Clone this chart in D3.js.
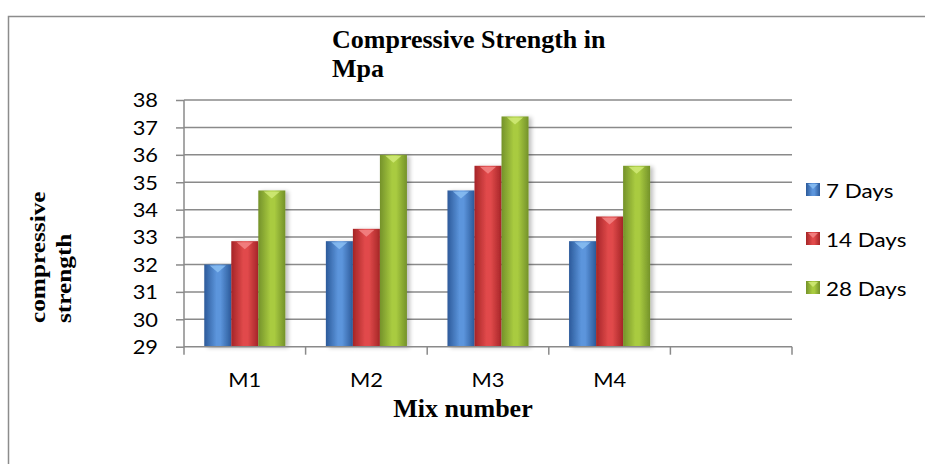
<!DOCTYPE html>
<html><head><meta charset="utf-8">
<script src="https://cdn.jsdelivr.net/npm/d3@7"></script>
<style>body{margin:0;background:#fff}svg{display:block}</style>
</head><body>
<script>
const categories = ["M1","M2","M3","M4",""];
const seriesNames = ["7 Days","14 Days","28 Days"];
const days7  = [32.0, 32.85, 34.7, 32.85];
const days14 = [32.85, 33.3, 35.6, 33.75];
const days28 = [34.7, 36.0, 37.4, 35.6];
const yTicks = [29,30,31,32,33,34,35,36,37,38];
const seriesValues = [days7, days14, days28];
const palette = [
  {edge:"#2c5a9a", mid:"#5c95dc", top:"#8cc0f4"},
  {edge:"#a52527", mid:"#e14a4b", top:"#f58a8a"},
  {edge:"#74922a", mid:"#a9cb40", top:"#d3ec7a"}
];

const W=925,H=464;
const sansF="Lato, 'Open Sans', sans-serif";
const serifF="'Liberation Serif','Times New Roman',serif";
const svg=d3.select("body").append("svg").attr("width",W).attr("height",H);
const defs=svg.append("defs");
palette.forEach((p,i)=>{
  const g=defs.append("linearGradient").attr("id","g"+i).attr("x1","0").attr("x2","1").attr("y1","0").attr("y2","0");
  g.append("stop").attr("offset","0%").attr("stop-color",p.edge);
  g.append("stop").attr("offset","45%").attr("stop-color",p.mid);
  g.append("stop").attr("offset","60%").attr("stop-color",p.mid);
  g.append("stop").attr("offset","100%").attr("stop-color",p.edge);
});
const f=defs.append("filter").attr("id","sh").attr("x","-20%").attr("y","-5%").attr("width","150%").attr("height","115%");
f.append("feGaussianBlur").attr("in","SourceAlpha").attr("stdDeviation",2).attr("result","b");
f.append("feOffset").attr("in","b").attr("dx",3).attr("dy",1).attr("result","o");
f.append("feComponentTransfer").attr("in","o").attr("result","o2").append("feFuncA").attr("type","linear").attr("slope",0.25);
const m=f.append("feMerge"); m.append("feMergeNode").attr("in","o2"); m.append("feMergeNode").attr("in","SourceGraphic");

// border
svg.append("rect").attr("x",8.5).attr("y",16.5).attr("width",W).attr("height",H).attr("fill","none").attr("stroke","#8c8c8c").attr("stroke-width",1.5);

const x0=184,x1=792,yTop=100,yBot=346.7;
const x=d3.scaleBand().domain(categories).range([x0,x1]).paddingInner(0).paddingOuter(0);
const y=d3.scaleLinear().domain([29,38]).range([yBot,yTop]);
const w=x.bandwidth()/4.5;
const xs=d3.scaleBand().domain(seriesNames).range([0.75*w,3.75*w]).padding(0);

// y axis ticks + labels
const yAxis=d3.axisLeft(y).tickValues(yTicks).tickSize(8).tickFormat(d3.format("d"));
const ga=svg.append("g").attr("transform",`translate(${x0},0)`).call(yAxis);
ga.select(".domain").remove();
ga.selectAll(".tick line").attr("stroke","#8a8a8a").attr("stroke-width",1.5);
ga.selectAll(".tick text").attr("x",0).attr("dy","0.36em").attr("text-anchor","end")
  .attr("transform","translate(-26,0) scale(1.15,1)")
  .style("font-family",sansF).style("font-size","19px").attr("fill","#000");
svg.append("g").selectAll("line").data(yTicks.filter(d=>d>29)).join("line")
  .attr("x1",x0).attr("x2",x1).attr("y1",d=>y(d)).attr("y2",d=>y(d)).attr("stroke","#8a8a8a").attr("stroke-width",1.5);

// bars
const data=[];
categories.slice(0,4).forEach((c,ci)=>seriesNames.forEach((s,si)=>data.push({c,s,si,v:seriesValues[si][ci]})));
const bars=svg.append("g");
data.forEach(d=>{
  const bx=x(d.c)+xs(d.s), by=y(d.v), bw=xs.bandwidth(), bh=yBot-by;
  bars.append("rect").attr("x",bx).attr("y",by).attr("width",bw).attr("height",bh).attr("fill",`url(#g${d.si})`).attr("filter","url(#sh)");
  bars.append("path").attr("d",`M${bx+bw*0.2},${by+1}L${bx+bw*0.5},${by+8}L${bx+bw*0.8},${by+1}Z`).attr("fill",palette[d.si].top).attr("opacity",0.8);
});

// x axis
const xa=svg.append("g");
xa.append("line").attr("x1",x0).attr("x2",x1).attr("y1",yBot).attr("y2",yBot).attr("stroke","#8a8a8a").attr("stroke-width",1.5);
xa.selectAll("line.t").data(categories.map(c=>x(c)).concat([x1])).join("line").attr("class","t")
  .attr("x1",d=>d).attr("x2",d=>d).attr("y2",yBot+8).attr("stroke","#8a8a8a").attr("stroke-width",1.5)
  .attr("y1",(d,i)=>i===0?yTop:yBot);
xa.selectAll("text").data(categories).join("text")
  .attr("transform",d=>`translate(${x(d)+x.bandwidth()/2},387) scale(1.15,1)`)
  .attr("text-anchor","middle").style("font-family",sansF).style("font-size","19px").text(d=>d);

// titles
const t=svg.append("text").style("font-family",serifF).style("font-weight","bold").style("font-size","26px");
t.append("tspan").attr("x",332).attr("y",47.5).text("Compressive Strength in");
t.append("tspan").attr("x",332).attr("y",77).text("Mpa");
svg.append("text").attr("x",463).attr("y",417).attr("text-anchor","middle").style("font-family",serifF).style("font-weight","bold").style("font-size","26px").text("Mix number");
const ylab=["compressive","strength"];
svg.append("g").selectAll("text").data(ylab).join("text")
  .attr("transform",(d,i)=>`translate(${[45,71][i]},323) rotate(-90) scale(1.15,1)`)
  .attr("text-anchor","start").style("font-family",serifF).style("font-weight","bold").style("font-size","22px").text(d=>d);

// legend
const lg=svg.append("g").selectAll("g").data(seriesNames).join("g").attr("transform",(d,i)=>`translate(806,${183+i*49})`);
lg.append("rect").attr("width",14).attr("height",13).attr("fill",(d,i)=>`url(#g${i})`);
lg.append("path").attr("d","M2,1L7,6L12,1Z").attr("fill",(d,i)=>palette[i].top).attr("opacity",0.8);
lg.append("text").attr("transform","translate(20,15) scale(1.18,1)").style("font-family",sansF).style("font-size","19px").text(d=>d);
</script>
</body></html>
